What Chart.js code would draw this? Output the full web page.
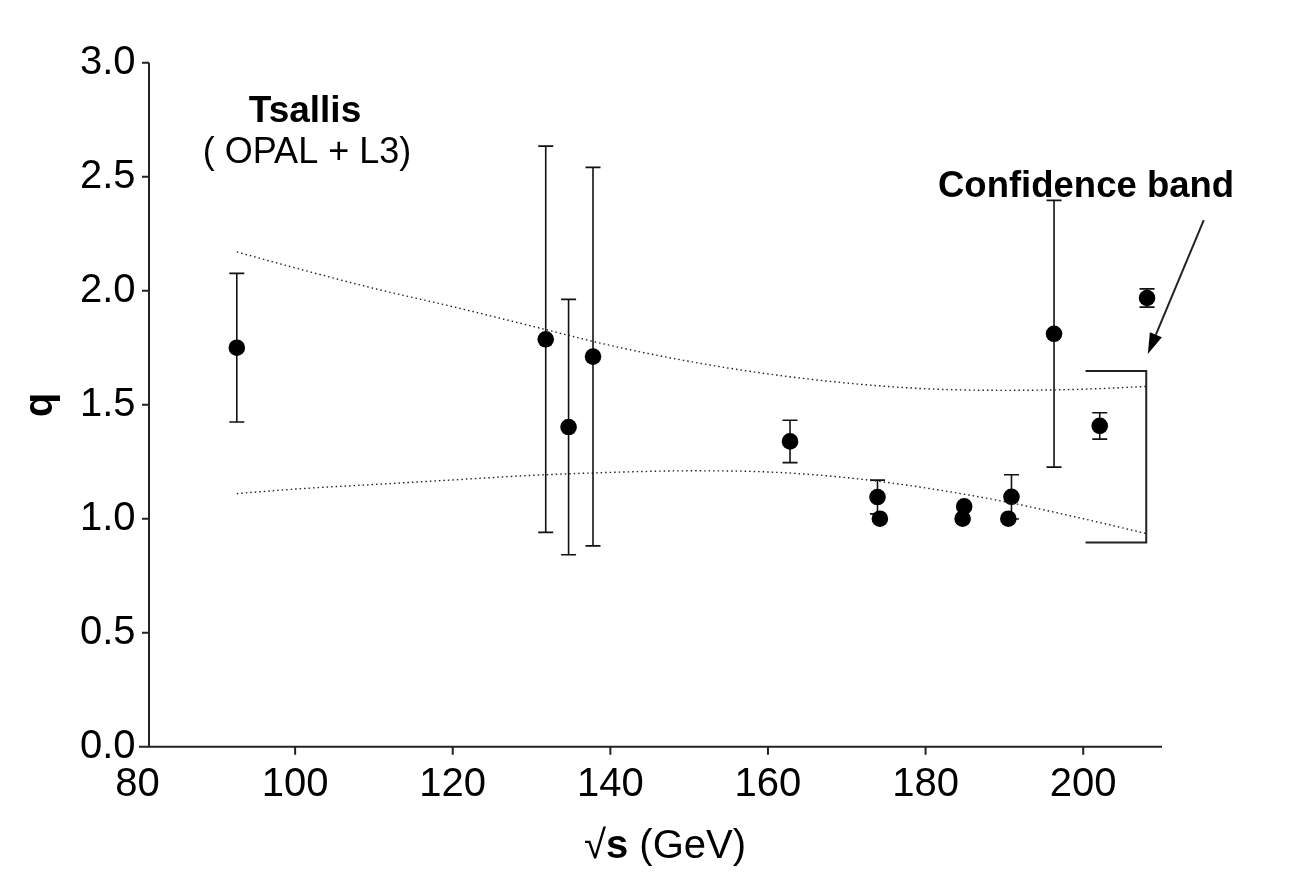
<!DOCTYPE html>
<html>
<head>
<meta charset="utf-8">
<title>Tsallis q vs sqrt(s)</title>
<script src="https://cdn.jsdelivr.net/npm/chart.js@4.4.1/dist/chart.umd.min.js"></script>
<style>
    html, body { margin: 0; padding: 0; background: #fff; }
    #wrap { width: 1289px; height: 890px; }
</style>
</head>
<body>
<div id="wrap"><canvas id="q-chart" width="1289" height="890"></canvas></div>
<script>
// Measured points (sqrt(s) in GeV, fitted q and its error)
const sqrtS = [92.6, 131.8, 134.7, 137.8, 162.8, 173.9, 174.2, 184.9, 184.7, 190.9, 190.5, 196.3, 202.1, 208.1];
const qValues = [1.75, 1.787, 1.402, 1.711, 1.339, 1.095, 1.0, 1.054, 1.0, 1.096, 1.0, 1.811, 1.407, 1.968];
const qErrors = [0.326, 0.847, 0.56, 0.83, 0.093, 0.074, 0, 0, 0, 0.097, 0, 0.585, 0.058, 0.04];

// Confidence band (dotted curves)
const bandX = [92.6, 100, 110, 120, 130, 140, 150, 160, 170, 180, 190, 200, 208];
const bandUpper = [2.17, 2.10, 2.01, 1.93, 1.845, 1.76, 1.69, 1.635, 1.595, 1.57, 1.563, 1.568, 1.58];
const bandLower = [1.11, 1.13, 1.15, 1.17, 1.19, 1.203, 1.21, 1.205, 1.18, 1.135, 1.075, 1.0, 0.935];

// Axis ticks
const xTicks = [80, 100, 120, 140, 160, 180, 200];
const yTicks = [0.0, 0.5, 1.0, 1.5, 2.0, 2.5, 3.0];

// Bracket marking the band at the right edge, and the arrow pointing at it
const bracketX = [200.3, 208];
const bracketQ = [0.896, 1.648];
const arrowFrom = [215.3, 2.31];
const arrowTo = [208.2, 1.722];

const FONT = '"Liberation Sans", Arial, Helvetica, sans-serif';

function toXY(chart, x, y) {
    return [chart.scales.x.getPixelForValue(x), chart.scales.y.getPixelForValue(y)];
}

// error bars under the dots
const errorBarPlugin = {
    id: 'errorBars',
    beforeDatasetsDraw(chart) {
        const ctx = chart.ctx;
        ctx.save();
        ctx.strokeStyle = '#111';
        ctx.lineWidth = 1.6;
        sqrtS.forEach((x, i) => {
            const err = qErrors[i];
            if (!err) return;
            const [px, top] = toXY(chart, x, qValues[i] + err);
            const bottom = chart.scales.y.getPixelForValue(qValues[i] - err);
            ctx.beginPath();
            ctx.moveTo(px, top);
            ctx.lineTo(px, bottom);
            ctx.moveTo(px - 7.5, top);
            ctx.lineTo(px + 7.5, top);
            ctx.moveTo(px - 7.5, bottom);
            ctx.lineTo(px + 7.5, bottom);
            ctx.stroke();
        });
        ctx.restore();
    }
};

// axes with the offset y axis, titles, labels, bracket and arrow
const decorPlugin = {
    id: 'decor',
    afterDraw(chart) {
        const ctx = chart.ctx;
        const area = chart.chartArea;
        const xs = chart.scales.x;
        const ys = chart.scales.y;
        ctx.save();
        ctx.strokeStyle = '#222';
        ctx.fillStyle = '#000';
        ctx.lineWidth = 2;

        // y axis (drawn slightly right of x=80, as in the original)
        const yAxisX = area.left + 11.5;
        ctx.beginPath();
        ctx.moveTo(yAxisX, ys.getPixelForValue(3.0));
        ctx.lineTo(yAxisX, ys.getPixelForValue(0));
        yTicks.forEach(v => {
            const py = ys.getPixelForValue(v);
            ctx.moveTo(yAxisX - 7, py);
            ctx.lineTo(yAxisX, py);
        });
        // x axis
        const axisY = ys.getPixelForValue(0);
        ctx.moveTo(area.left + 1.5, axisY);
        ctx.lineTo(xs.getPixelForValue(210), axisY);
        xTicks.slice(1).forEach(v => {
            const px = xs.getPixelForValue(v);
            ctx.moveTo(px, axisY);
            ctx.lineTo(px, axisY + 8);
        });
        ctx.stroke();

        // confidence band bracket
        const [bx0, by0] = toXY(chart, bracketX[0], bracketQ[1]);
        const [bx1, by1] = toXY(chart, bracketX[1], bracketQ[0]);
        ctx.beginPath();
        ctx.moveTo(bx0, by0);
        ctx.lineTo(bx1, by0);
        ctx.lineTo(bx1, by1);
        ctx.lineTo(bx0, by1);
        ctx.stroke();

        // arrow
        const [ax0, ay0] = toXY(chart, arrowFrom[0], arrowFrom[1]);
        const [ax1, ay1] = toXY(chart, arrowTo[0], arrowTo[1]);
        const ang = Math.atan2(ay1 - ay0, ax1 - ax0);
        const headLen = 21, headHalf = 6.5;
        const baseX = ax1 - headLen * Math.cos(ang);
        const baseY = ay1 - headLen * Math.sin(ang);
        ctx.beginPath();
        ctx.moveTo(ax0, ay0);
        ctx.lineTo(baseX, baseY);
        ctx.stroke();
        ctx.beginPath();
        ctx.moveTo(ax1, ay1);
        ctx.lineTo(baseX + headHalf * Math.sin(ang), baseY - headHalf * Math.cos(ang));
        ctx.lineTo(baseX - headHalf * Math.sin(ang), baseY + headHalf * Math.cos(ang));
        ctx.closePath();
        ctx.fill();

        // annotations
        ctx.textBaseline = 'alphabetic';
        ctx.textAlign = 'center';
        ctx.font = 'bold 37px ' + FONT;
        ctx.fillText('Tsallis', 305, 122);
        ctx.font = '36px ' + FONT;
        ctx.fillText('( OPAL + L3)', 307, 163);
        ctx.textAlign = 'left';
        ctx.font = 'bold 36.5px ' + FONT;
        ctx.fillText('Confidence band', 938, 197);

        // y title
        ctx.save();
        ctx.translate(52, 405);
        ctx.rotate(-Math.PI / 2);
        ctx.textAlign = 'center';
        ctx.font = 'bold 40px ' + FONT;
        ctx.fillText('q', 0, 0);
        ctx.restore();

        // x title: √s (GeV) with bold s
        const parts = [['√', '40px '], ['s', 'bold 40px '], [' (GeV)', '40px ']];
        let total = 0;
        parts.forEach(p => { ctx.font = p[1] + FONT; total += ctx.measureText(p[0]).width; });
        let cx = 665 - total / 2;
        parts.forEach(p => {
            ctx.font = p[1] + FONT;
            ctx.fillText(p[0], cx, 858);
            cx += ctx.measureText(p[0]).width;
        });
        ctx.restore();
    }
};

const ctx = document.getElementById('q-chart').getContext('2d');
new Chart(ctx, {
    type: 'scatter',
    data: {
        datasets: [{
            label: 'upper band',
            type: 'line',
            data: bandX.map((x, i) => ({ x: x, y: bandUpper[i] })),
            borderColor: '#222',
            borderWidth: 1.4,
            borderDash: [1.5, 3],
            pointRadius: 0,
            cubicInterpolationMode: 'monotone',
            fill: false
        }, {
            label: 'lower band',
            type: 'line',
            data: bandX.map((x, i) => ({ x: x, y: bandLower[i] })),
            borderColor: '#222',
            borderWidth: 1.4,
            borderDash: [1.5, 3],
            pointRadius: 0,
            cubicInterpolationMode: 'monotone',
            fill: false
        }, {
            label: 'q',
            data: sqrtS.map((x, i) => ({ x: x, y: qValues[i] })),
            backgroundColor: '#000',
            borderColor: '#000',
            pointRadius: 8.3,
            pointBorderWidth: 0
        }]
    },
    options: {
        responsive: false,
        animation: false,
        layout: { padding: { top: 62.7, right: 127, left: 0, bottom: 0 } },
        plugins: {
            legend: { display: false },
            tooltip: { enabled: false }
        },
        scales: {
            x: {
                type: 'linear',
                min: 80,
                max: 210,
                grid: { display: false, drawTicks: false },
                border: { display: false },
                afterFit: s => { s.height = 143.3; },
                afterBuildTicks: s => { s.ticks = xTicks.map(v => ({ value: v })); },
                ticks: {
                    color: '#000',
                    padding: 14,
                    maxRotation: 0,
                    font: { family: FONT, size: 40 },
                    callback: v => String(v)
                }
            },
            y: {
                type: 'linear',
                min: 0,
                max: 3,
                grid: { display: false, drawTicks: false },
                border: { display: false },
                afterFit: s => { s.width = 137.5; },
                afterBuildTicks: s => { s.ticks = yTicks.map(v => ({ value: v })); },
                ticks: {
                    color: '#000',
                    padding: 2,
                    font: { family: FONT, size: 40 },
                    callback: v => Number(v).toFixed(1)
                }
            }
        }
    },
    plugins: [errorBarPlugin, decorPlugin]
});
</script>
</body>
</html>
